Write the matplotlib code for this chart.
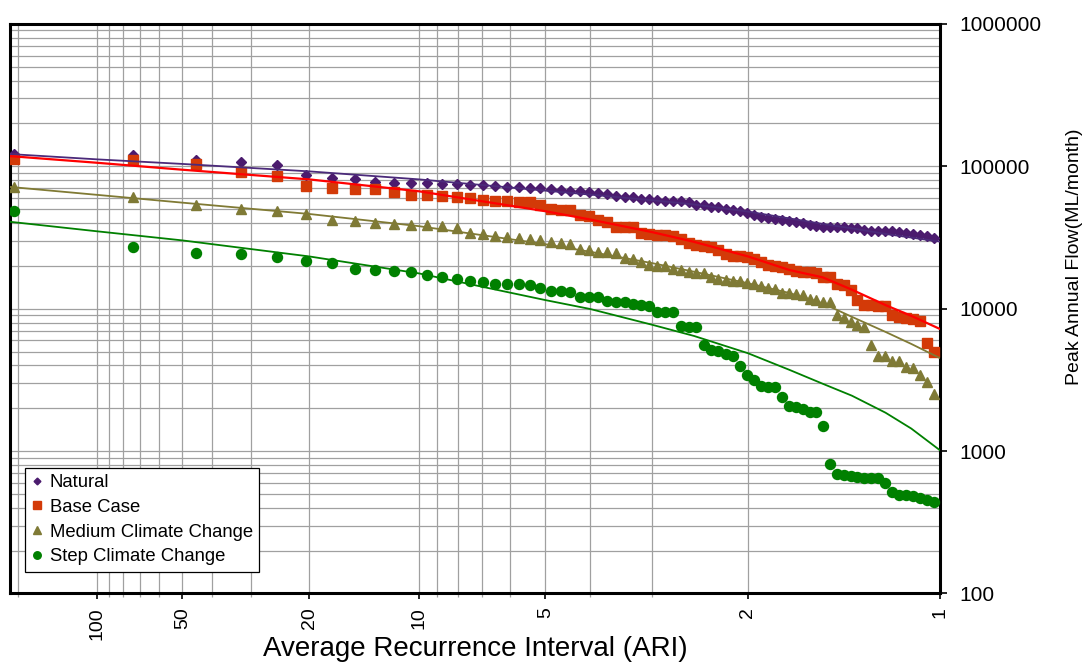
import numpy as np
import matplotlib
matplotlib.use('Agg')
import matplotlib.pyplot as plt
from matplotlib.ticker import FixedLocator, FuncFormatter, LogLocator, NullFormatter
from statistics import NormalDist

plt.rcParams['font.family'] = ['Liberation Sans', 'DejaVu Sans']

# plotting positions (Gringorten), 116 years of record, top 73 ranks shown
N_YEARS = 116
ranks = np.arange(1, 74)
aep = (ranks - 0.44) / (N_YEARS + 0.12)
ari = -1.0 / np.log(1.0 - aep)

natural = [122000, 120000, 110000, 108000, 102000, 87500, 82500, 81300, 77400, 76500,
           76500, 76100, 74900, 74900, 74000, 73700, 72900, 71700, 71300, 70900,
           70200, 69100, 68300, 67500, 66900, 66100, 65400, 63700, 62300, 61300,
           60700, 59400, 58800, 58100, 57500, 56900, 56700, 55800, 53400, 53400,
           52200, 51600, 50000, 49500, 48700, 46900, 45600, 44000, 43300, 42800,
           42100, 41200, 40600, 39900, 39000, 38200, 37800, 37800, 37200, 37200,
           37000, 36800, 35800, 35400, 35400, 35200, 35000, 34500, 33900, 33400,
           33000, 32300, 31500]
base_case = [113000, 111000, 104000, 90900, 86100, 72500, 70900, 69600, 69100, 65800,
             63300, 63000, 62000, 61000, 59800, 57800, 57200, 57200, 56300, 56000,
             53900, 50300, 49500, 49500, 45800, 45100, 41900, 40800, 37800, 37600,
             37600, 34100, 33500, 33200, 33000, 32500, 30800, 29000, 28100, 27600,
             27100, 25900, 24300, 23500, 23300, 23000, 22300, 21300, 20300, 19800,
             19500, 19000, 18500, 18200, 18100, 17800, 16800, 16700, 14900, 14700,
             13600, 11600, 10700, 10600, 10500, 10500, 9040, 8710, 8570, 8470,
             8240, 5790, 4970]
medium_cc = [72000, 61300, 53900, 50500, 48900, 46100, 42100, 41200, 40300, 39400,
             39000, 38600, 38200, 36800, 34200, 33400, 32500, 32100, 31600, 30800,
             30200, 29400, 29000, 28600, 26200, 25900, 25200, 25000, 24600, 22600,
             22300, 21200, 20300, 20100, 19800, 19100, 18600, 18200, 17900, 17900,
             16700, 16100, 15900, 15700, 15700, 15100, 14900, 14500, 13900, 13800,
             13000, 13000, 12700, 12400, 11700, 11600, 11200, 11200, 9040, 8570,
             8110, 7680, 7400, 5570, 4670, 4670, 4310, 4310, 3910, 3810,
             3420, 3070, 2520]
step_cc = [48400, 27300, 24700, 24300, 23100, 21700, 21000, 19000, 18700, 18400,
           18100, 17300, 16800, 16100, 15700, 15300, 15000, 15000, 14900, 14700,
           14000, 13400, 13400, 13200, 12000, 12000, 12000, 11300, 11200, 11200,
           10800, 10600, 10400, 9450, 9450, 9450, 7610, 7450, 7390, 5570,
           5130, 5050, 4780, 4650, 3950, 3420, 3150, 2860, 2830, 2810,
           2410, 2080, 2040, 1980, 1890, 1890, 1510, 813, 690, 682,
           672, 658, 647, 647, 647, 597, 514, 495, 488, 482,
           470, 457, 441]

fit_ari = [215.5, 100, 50, 20, 10, 5, 4, 3, 2.5, 2, 1.7, 1.5, 1.35, 1.2, 1.1, 1.0]
natural_fit = [122000, 112000, 104000, 92200, 81000, 67500, 63300, 57800, 54000, 48100,
               43100, 39400, 36700, 33500, 31600, 29600]
base_fit = [118000, 106000, 94700, 81000, 66800, 48400, 42300, 34500, 29500, 23300,
            18700, 16600, 13600, 10600, 8910, 7190]
medium_fit = [71700, 63100, 55600, 46300, 38000, 28400, 25100, 20900, 18200, 15100,
              12900, 10900, 8770, 6870, 5660, 4490]
step_fit = [40800, 35000, 30200, 23300, 17700, 11500, 9950, 7710, 6440, 4870,
            3720, 2970, 2450, 1860, 1440, 1010]

major_ari = [100, 50, 20, 10, 5, 2, 1]
minor_ari = [200, 90, 80, 70, 60, 40, 30, 9, 8, 7, 6, 4, 3]

_nd = NormalDist()


def fwd(t):
    # ARI -> standard normal variate of non-exceedance
    t = np.atleast_1d(np.asarray(t, dtype=float))
    out = np.full(t.shape, np.nan)
    ok = np.isfinite(t) & (t > 0)
    p = np.clip(np.exp(-1.0 / t[ok]), 1e-12, 1 - 1e-12)
    out[ok] = [_nd.inv_cdf(v) for v in p]
    return out


def inv(z):
    z = np.atleast_1d(np.asarray(z, dtype=float))
    out = np.full(z.shape, np.nan)
    ok = np.isfinite(z)
    c = np.array([_nd.cdf(v) for v in z[ok]])
    c = np.clip(c, 1e-300, 1 - 1e-15)
    out[ok] = -1.0 / np.log(c)
    return out


fig = plt.figure(figsize=(10.85, 6.64), dpi=100)
ax = fig.add_axes([0.0092, 0.1062, 0.8574, 0.8577])
ax.set_xscale('function', functions=(fwd, inv))
ax.set_yscale('log')

grid_c = '#a0a0a0'
ax.plot(fit_ari, natural_fit, color='#4b2a7a', lw=1.3, zorder=4)
ax.plot(fit_ari, base_fit, color='#ff0000', lw=1.6, zorder=4)
ax.plot(fit_ari, medium_fit, color='#807a34', lw=1.3, zorder=4)
ax.plot(fit_ari, step_fit, color='#008000', lw=1.3, zorder=4)

ax.plot(ari, natural, 'D', color='#4b1b6e', ms=4.6, ls='none', label='Natural', zorder=3)
ax.plot(ari, base_case, 's', color='#d33a08', ms=6.8, ls='none', label='Base Case', zorder=3)
ax.plot(ari, medium_cc, '^', color='#7f7a36', ms=7.5, ls='none', label='Medium Climate Change', zorder=3)
ax.plot(ari, step_cc, 'o', color='#008000', ms=7.2, ls='none', label='Step Climate Change', zorder=3)

ax.set_xlim(215.5, 1)
ax.set_ylim(100, 1000000)

ax.xaxis.set_major_locator(FixedLocator(major_ari))
ax.xaxis.set_minor_locator(FixedLocator(minor_ari))
ax.xaxis.set_major_formatter(FuncFormatter(lambda v, p: f'{v:g}'))
ax.xaxis.set_minor_formatter(NullFormatter())
ax.yaxis.set_major_locator(LogLocator(base=10))
ax.yaxis.set_minor_locator(LogLocator(base=10, subs=range(2, 10)))
ax.yaxis.set_major_formatter(FuncFormatter(lambda v, p: f'{v:.0f}'))
ax.yaxis.set_minor_formatter(NullFormatter())
ax.yaxis.tick_right()

ax.grid(True, which='both', color=grid_c, lw=0.9)
ax.set_axisbelow(True)

for s in ax.spines.values():
    s.set_linewidth(2.2)
    s.set_color('black')

ax.tick_params(axis='x', which='major', direction='out', length=4, width=1.2,
               labelsize=14, labelrotation=90, pad=6)
ax.tick_params(axis='x', which='minor', direction='out', length=3, width=0.9, color=grid_c)
ax.tick_params(axis='y', which='major', direction='out', length=5, width=1.2,
               labelsize=15, pad=9, right=True, left=False)
ax.tick_params(axis='y', which='minor', length=0)

ax.set_xlabel('Average Recurrence Interval (ARI)', fontsize=20)
ax.xaxis.set_label_coords(0.5, -0.075)
ax.set_ylabel('Peak Annual Flow(ML/month)', fontsize=14)
ax.yaxis.set_label_position('right')
ax.yaxis.set_label_coords(1.135, 0.592)

leg = ax.legend(loc='lower left', bbox_to_anchor=(0.016, 0.038), borderaxespad=0,
                fontsize=13.3, frameon=True, fancybox=False, markerscale=0.75,
                handlelength=0.6, handletextpad=0.4, borderpad=0.35, labelspacing=0.42)
leg.get_frame().set_edgecolor('black')
leg.get_frame().set_linewidth(0.9)
leg.get_frame().set_alpha(1)

fig.savefig('out.png', dpi=100)
